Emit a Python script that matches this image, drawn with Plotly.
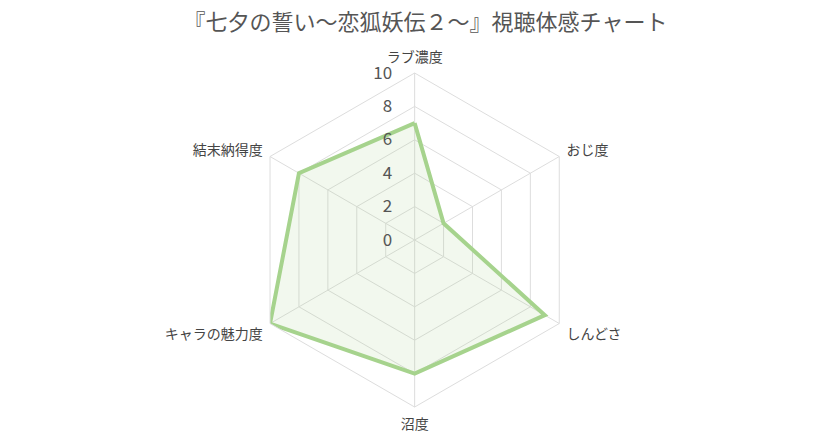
import plotly.graph_objects as go

# 視聴体感チャートの項目と値
categories = ["ラブ濃度", "おじ度", "しんどさ", "沼度", "キャラの魅力度", "結末納得度"]
scores = [7, 2, 9, 8, 10, 8]
radial_ticks = [0, 2, 4, 6, 8, 10]

FONT = "Noto Sans CJK JP"

fig = go.Figure()
fig.add_trace(
    go.Scatterpolar(
        r=scores + scores[:1],
        theta=categories + categories[:1],
        mode="lines",
        fill="toself",
        fillcolor="rgba(166, 211, 141, 0.15)",
        line=dict(color="#a6d38d", width=4),
        showlegend=False,
        hoverinfo="skip",
    )
)

fig.update_layout(
    width=835,
    height=436,
    paper_bgcolor="white",
    margin=dict(l=0, r=0, t=0, b=0),
    font=dict(family=FONT, color="#555555"),
    title=dict(
        text="『七夕の誓い～恋狐妖伝２～』視聴体感チャート",
        x=0.5,
        xanchor="center",
        y=0.968,
        yanchor="middle",
        font=dict(family=FONT, size=22, color="#555555"),
    ),
    polar=dict(
        domain=dict(x=[0.287, 0.687], y=[0.0848, 0.8509]),
        bgcolor="white",
        gridshape="linear",
        radialaxis=dict(
            range=[0, 10],
            tickvals=radial_ticks,
            angle=90,
            tickangle=90,
            side="counterclockwise",
            showline=False,
            ticks="outside",
            ticklen=16,
            tickcolor="rgba(0,0,0,0)",
            gridcolor="#dddddd",
            tickfont=dict(size=17, color="#555555"),
        ),
        angularaxis=dict(
            direction="clockwise",
            rotation=90,
            gridcolor="#dddddd",
            linecolor="#dddddd",
            ticks="outside",
            ticklen=5,
            tickcolor="rgba(0,0,0,0)",
            tickfont=dict(size=14, color="#444444"),
        ),
    ),
)

fig.write_html("out.html")
